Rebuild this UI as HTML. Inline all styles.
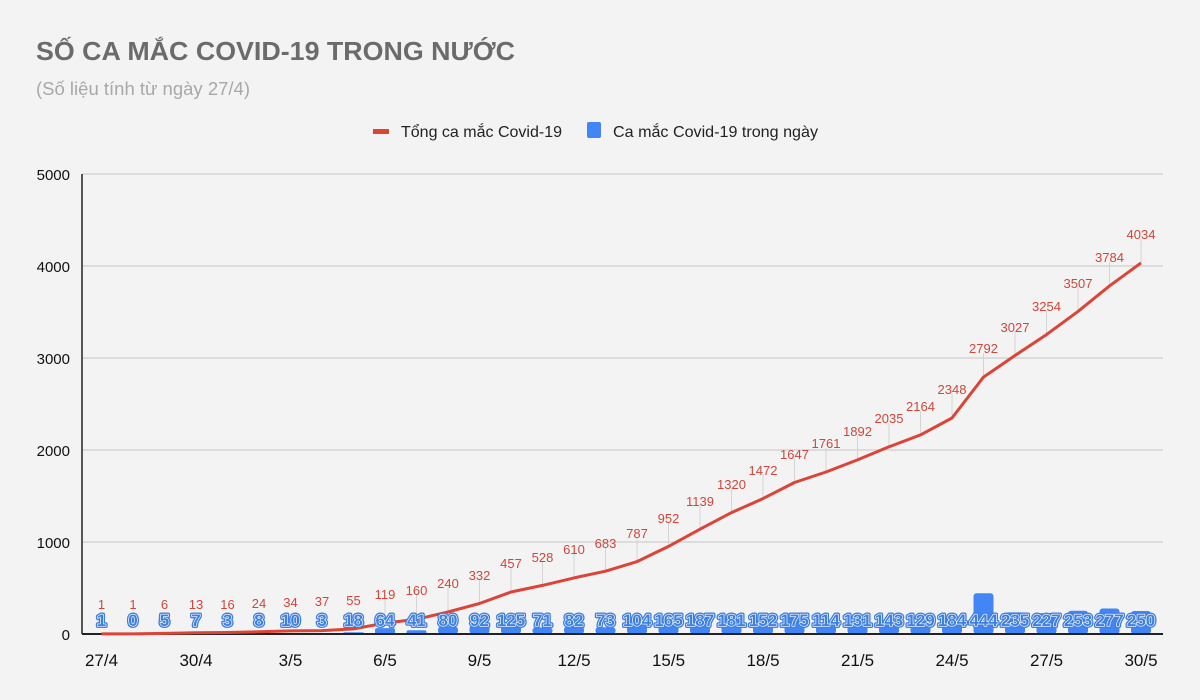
<!DOCTYPE html>
<html><head><meta charset="utf-8"><style>
html,body{margin:0;padding:0;background:#f3f3f3;}
svg{display:block;font-family:"Liberation Sans",sans-serif;}
.rl{fill:#d0463a;font-size:13px;text-anchor:middle}
.bl{fill:#3f7fe0;font-size:17px;font-weight:bold;text-anchor:middle;stroke-linejoin:round}
.b1{stroke:#3f7fe0;stroke-width:4px}
.b2{stroke:#fff;stroke-width:1.3px;paint-order:stroke}
.ld{stroke:#d4d4d4;stroke-width:1}
.xl{font-size:17px;fill:#111;text-anchor:middle}
.yl{font-size:15px;fill:#111;text-anchor:end}
</style></head><body>
<svg width="1200" height="700" viewBox="0 0 1200 700">
<rect width="1200" height="700" fill="#f3f3f3"/>
<text x="36" y="60" font-size="26" font-weight="bold" fill="#6b6b6b" textLength="479" lengthAdjust="spacingAndGlyphs">SỐ CA MẮC COVID-19 TRONG NƯỚC</text>
<text x="36" y="95" font-size="18" fill="#a8a8a8" textLength="214" lengthAdjust="spacingAndGlyphs">(Số liệu tính từ ngày 27/4)</text>
<rect x="373" y="129" width="16" height="5" fill="#dd4433"/>
<text x="401" y="137" font-size="16" fill="#222" textLength="161" lengthAdjust="spacingAndGlyphs">Tổng ca mắc Covid-19</text>
<rect x="587" y="122" width="14" height="16" rx="2" fill="#4285f4"/>
<text x="613" y="137" font-size="16" fill="#222" textLength="205" lengthAdjust="spacingAndGlyphs">Ca mắc Covid-19 trong ngày</text>
<g stroke="#cfcfcf" stroke-width="1.2">
<line x1="82" y1="174" x2="1163" y2="174"/><line x1="82" y1="266" x2="1163" y2="266"/><line x1="82" y1="358" x2="1163" y2="358"/><line x1="82" y1="450" x2="1163" y2="450"/><line x1="82" y1="542" x2="1163" y2="542"/>
</g>
<line x1="82" y1="174" x2="82" y2="634" stroke="#222" stroke-width="1.5"/>
<text class="yl" x="70" y="180">5000</text><text class="yl" x="70" y="272">4000</text><text class="yl" x="70" y="364">3000</text><text class="yl" x="70" y="456">2000</text><text class="yl" x="70" y="548">1000</text><text class="yl" x="70" y="640">0</text>
<g fill="#4285f4">
<rect x="91.5" y="633.9" width="20" height="0.1"/>
<rect x="154.5" y="633.5" width="20" height="0.5"/>
<rect x="186" y="633.4" width="20" height="0.6"/>
<rect x="217.5" y="633.7" width="20" height="0.3"/>
<rect x="249" y="633.3" width="20" height="0.7"/>
<rect x="280.5" y="633.1" width="20" height="0.9"/>
<rect x="312" y="633.7" width="20" height="0.3"/>
<rect x="343.5" y="632.3" width="20" height="1.7"/>
<rect x="375" y="628.1" width="20" height="5.9" rx="2"/>
<rect x="406.5" y="630.2" width="20" height="3.8" rx="2"/>
<rect x="438" y="626.6" width="20" height="7.4" rx="3"/>
<rect x="469.5" y="625.5" width="20" height="8.5" rx="3"/>
<rect x="501" y="622.5" width="20" height="11.5" rx="3"/>
<rect x="532.5" y="627.5" width="20" height="6.5" rx="3"/>
<rect x="564" y="626.5" width="20" height="7.5" rx="3"/>
<rect x="595.5" y="627.3" width="20" height="6.7" rx="3"/>
<rect x="627" y="624.4" width="20" height="9.6" rx="3"/>
<rect x="658.5" y="618.8" width="20" height="15.2" rx="3"/>
<rect x="690" y="616.8" width="20" height="17.2" rx="3"/>
<rect x="721.5" y="617.3" width="20" height="16.7" rx="3"/>
<rect x="753" y="620.0" width="20" height="14.0" rx="3"/>
<rect x="784.5" y="617.9" width="20" height="16.1" rx="3"/>
<rect x="816" y="623.5" width="20" height="10.5" rx="3"/>
<rect x="847.5" y="622.0" width="20" height="12.0" rx="3"/>
<rect x="879" y="620.8" width="20" height="13.2" rx="3"/>
<rect x="910.5" y="622.1" width="20" height="11.9" rx="3"/>
<rect x="942" y="617.1" width="20" height="16.9" rx="3"/>
<rect x="973.5" y="593.2" width="20" height="40.8" rx="3"/>
<rect x="1005" y="612.4" width="20" height="21.6" rx="3"/>
<rect x="1036.5" y="613.1" width="20" height="20.9" rx="3"/>
<rect x="1068" y="610.7" width="20" height="23.3" rx="3"/>
<rect x="1099.5" y="608.5" width="20" height="25.5" rx="3"/>
<rect x="1131" y="611.0" width="20" height="23.0" rx="3"/>
</g>
<line x1="82" y1="634" x2="1163" y2="634" stroke="#222" stroke-width="2"/>
<g class="ld">
<line x1="385" y1="598" x2="385" y2="623"/><line x1="416.5" y1="595" x2="416.5" y2="619"/><line x1="448" y1="588" x2="448" y2="612"/><line x1="479.5" y1="579" x2="479.5" y2="603"/><line x1="511" y1="567" x2="511" y2="592"/><line x1="542.5" y1="561" x2="542.5" y2="585"/><line x1="574" y1="553" x2="574" y2="578"/><line x1="605.5" y1="547" x2="605.5" y2="571"/><line x1="637" y1="537" x2="637" y2="561"/><line x1="668.5" y1="522" x2="668.5" y2="546"/><line x1="700" y1="505" x2="700" y2="529"/><line x1="731.5" y1="488" x2="731.5" y2="512"/><line x1="763" y1="474" x2="763" y2="498"/><line x1="794.5" y1="458" x2="794.5" y2="482"/><line x1="826" y1="448" x2="826" y2="472"/><line x1="857.5" y1="436" x2="857.5" y2="460"/><line x1="889" y1="423" x2="889" y2="447"/><line x1="920.5" y1="411" x2="920.5" y2="435"/><line x1="952" y1="394" x2="952" y2="418"/><line x1="983.5" y1="353" x2="983.5" y2="377"/><line x1="1015" y1="331" x2="1015" y2="355"/><line x1="1046.5" y1="310" x2="1046.5" y2="334"/><line x1="1078" y1="287" x2="1078" y2="311"/><line x1="1109.5" y1="262" x2="1109.5" y2="286"/><line x1="1141" y1="239" x2="1141" y2="263"/>
</g>
<polyline fill="none" stroke="#db4437" stroke-width="3" stroke-linejoin="round" points="101.5,633.9 133,633.9 164.5,633.4 196,632.8 227.5,632.5 259,631.8 290.5,630.9 322,630.6 353.5,628.9 385,623.1 416.5,619.3 448,611.9 479.5,603.5 511,592.0 542.5,585.4 574,577.9 605.5,571.2 637,561.6 668.5,546.4 700,529.2 731.5,512.6 763,498.6 794.5,482.5 826,472.0 857.5,459.9 889,446.8 920.5,434.9 952,418.0 983.5,377.1 1015,355.5 1046.5,334.6 1078,311.4 1109.5,285.9 1141,262.9"/>
<g class="rl">
<text x="101.5" y="609">1</text><text x="133" y="609">1</text><text x="164.5" y="609">6</text><text x="196" y="609">13</text><text x="227.5" y="609">16</text><text x="259" y="608">24</text><text x="290.5" y="607">34</text><text x="322" y="606">37</text><text x="353.5" y="605">55</text><text x="385" y="599">119</text><text x="416.5" y="595">160</text><text x="448" y="588">240</text><text x="479.5" y="580">332</text><text x="511" y="568">457</text><text x="542.5" y="562">528</text><text x="574" y="554">610</text><text x="605.5" y="548">683</text><text x="637" y="538">787</text><text x="668.5" y="523">952</text><text x="700" y="506">1139</text><text x="731.5" y="489">1320</text><text x="763" y="475">1472</text><text x="794.5" y="459">1647</text><text x="826" y="448">1761</text><text x="857.5" y="436">1892</text><text x="889" y="423">2035</text><text x="920.5" y="411">2164</text><text x="952" y="394">2348</text><text x="983.5" y="353">2792</text><text x="1015" y="332">3027</text><text x="1046.5" y="311">3254</text><text x="1078" y="288">3507</text><text x="1109.5" y="262">3784</text><text x="1141" y="239">4034</text>
</g>
<g class="bl b1">
<text x="101.5" y="626">1</text><text x="133" y="626">0</text><text x="164.5" y="626">5</text><text x="196" y="626">7</text><text x="227.5" y="626">3</text><text x="259" y="626">8</text><text x="290.5" y="626">10</text><text x="322" y="626">3</text><text x="353.5" y="626">18</text><text x="385" y="626">64</text><text x="416.5" y="626">41</text><text x="448" y="626">80</text><text x="479.5" y="626">92</text><text x="511" y="626">125</text><text x="542.5" y="626">71</text><text x="574" y="626">82</text><text x="605.5" y="626">73</text><text x="637" y="626">104</text><text x="668.5" y="626">165</text><text x="700" y="626">187</text><text x="731.5" y="626">181</text><text x="763" y="626">152</text><text x="794.5" y="626">175</text><text x="826" y="626">114</text><text x="857.5" y="626">131</text><text x="889" y="626">143</text><text x="920.5" y="626">129</text><text x="952" y="626">184</text><text x="983.5" y="626">444</text><text x="1015" y="626">235</text><text x="1046.5" y="626">227</text><text x="1078" y="626">253</text><text x="1109.5" y="626">277</text><text x="1141" y="626">250</text>
</g>
<g class="bl b2">
<text x="101.5" y="626">1</text><text x="133" y="626">0</text><text x="164.5" y="626">5</text><text x="196" y="626">7</text><text x="227.5" y="626">3</text><text x="259" y="626">8</text><text x="290.5" y="626">10</text><text x="322" y="626">3</text><text x="353.5" y="626">18</text><text x="385" y="626">64</text><text x="416.5" y="626">41</text><text x="448" y="626">80</text><text x="479.5" y="626">92</text><text x="511" y="626">125</text><text x="542.5" y="626">71</text><text x="574" y="626">82</text><text x="605.5" y="626">73</text><text x="637" y="626">104</text><text x="668.5" y="626">165</text><text x="700" y="626">187</text><text x="731.5" y="626">181</text><text x="763" y="626">152</text><text x="794.5" y="626">175</text><text x="826" y="626">114</text><text x="857.5" y="626">131</text><text x="889" y="626">143</text><text x="920.5" y="626">129</text><text x="952" y="626">184</text><text x="983.5" y="626">444</text><text x="1015" y="626">235</text><text x="1046.5" y="626">227</text><text x="1078" y="626">253</text><text x="1109.5" y="626">277</text><text x="1141" y="626">250</text>
</g>
<g class="xl">
<text x="101.5" y="666">27/4</text><text x="196" y="666">30/4</text><text x="290.5" y="666">3/5</text><text x="385" y="666">6/5</text><text x="479.5" y="666">9/5</text><text x="574" y="666">12/5</text><text x="668.5" y="666">15/5</text><text x="763" y="666">18/5</text><text x="857.5" y="666">21/5</text><text x="952" y="666">24/5</text><text x="1046.5" y="666">27/5</text><text x="1141" y="666">30/5</text>
</g>
</svg>
</body></html>
